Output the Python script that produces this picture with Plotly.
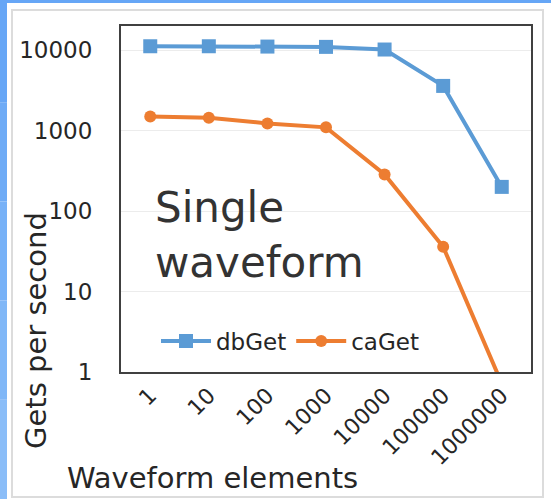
import plotly.graph_objects as go

categories = ["1", "10", "100", "1000", "10000", "100000", "1000000"]
db_get = [11200, 11200, 11100, 11000, 10200, 3600, 200]
ca_get = [1500, 1450, 1230, 1100, 285, 36, 0.72]
y_ticks = [1, 10, 100, 1000, 10000]
y_ticklabels = ["1", "10", "100", "1000", "10000"]

W, H = 551, 499
L, R, T, B = 121, 20, 26, 127
PW, PH = W - L - R, H - T - B

def px_x(px):
    return (px - L) / PW

def px_y(py):
    return (H - B - py) / PH

FONT = "DejaVu Sans"
TXT = "#262626"

fig = go.Figure()
fig.add_trace(go.Scatter(
    x=categories, y=db_get, name="dbGet", mode="lines+markers",
    line=dict(color="#5B9BD5", width=4),
    marker=dict(symbol="square", size=14, color="#5B9BD5"),
))
fig.add_trace(go.Scatter(
    x=categories, y=ca_get, name="caGet", mode="lines+markers",
    line=dict(color="#ED7D31", width=4),
    marker=dict(symbol="circle", size=12, color="#ED7D31"),
))

shapes = []
# blue slide border (left strip with a slight gradient, top strip)
blues = ["#66a6f6", "#6eabf6", "#77b1f7", "#80b7f7", "#8abdf8"]
n = len(blues)
for i, c in enumerate(blues):
    shapes.append(dict(type="rect", xref="paper", yref="paper",
                       x0=px_x(0), x1=px_x(7),
                       y0=px_y(3 + (H - 3) * (i + 1) / n), y1=px_y(3 + (H - 3) * i / n),
                       fillcolor=c, line=dict(width=0), layer="above"))
shapes.append(dict(type="rect", xref="paper", yref="paper",
                   x0=px_x(0), x1=px_x(W), y0=px_y(3), y1=px_y(0),
                   fillcolor="#66a6f6", line=dict(width=0), layer="above"))
# faint grey chart frame
shapes.append(dict(type="rect", xref="paper", yref="paper",
                   x0=px_x(12), x1=px_x(543), y0=px_y(497), y1=px_y(10),
                   fillcolor="rgba(0,0,0,0)", line=dict(color="#dcdcdc", width=2),
                   layer="above"))

fig.update_layout(
    width=W, height=H,
    margin=dict(l=L, r=R, t=T, b=B, pad=0),
    paper_bgcolor="white", plot_bgcolor="white",
    font=dict(family=FONT, color=TXT),
    shapes=shapes,
    showlegend=True,
    legend=dict(orientation="h", x=px_x(290), y=px_y(341),
                xanchor="center", yanchor="middle",
                bgcolor="rgba(0,0,0,0)", font=dict(size=23, color=TXT),
                itemwidth=50, tracegroupgap=0),
    xaxis=dict(type="category", tickangle=-45, tickfont=dict(size=22, color=TXT),
               showgrid=False, showline=True, linecolor="#404040", linewidth=2,
               mirror=True, ticks="", zeroline=False),
    yaxis=dict(type="log", range=[0, 4.301], tickvals=y_ticks, ticktext=y_ticklabels,
               tickfont=dict(size=23, color=TXT), ticklabelstandoff=22,
               showgrid=True, gridcolor="#ececec", gridwidth=1,
               showline=True, linecolor="#404040", linewidth=2, mirror=True,
               ticks="", zeroline=False),
    annotations=[
        dict(text="Single<br>waveform", xref="paper", yref="paper",
             x=px_x(153), y=px_y(181), xanchor="left", yanchor="top",
             align="left", showarrow=False, font=dict(size=42, color="#333333")),
        dict(text="Gets per second", xref="paper", yref="paper",
             x=px_x(36), y=px_y(331), xanchor="center", yanchor="middle",
             textangle=-90, showarrow=False, font=dict(size=29, color=TXT)),
        dict(text="Waveform elements", xref="paper", yref="paper",
             x=px_x(212), y=px_y(478), xanchor="center", yanchor="middle",
             showarrow=False, font=dict(size=29, color=TXT)),
    ],
)

fig.write_html("out.html", config={"displayModeBar": False},
               post_script="document.body.style.margin='0';document.body.style.padding='0';")
